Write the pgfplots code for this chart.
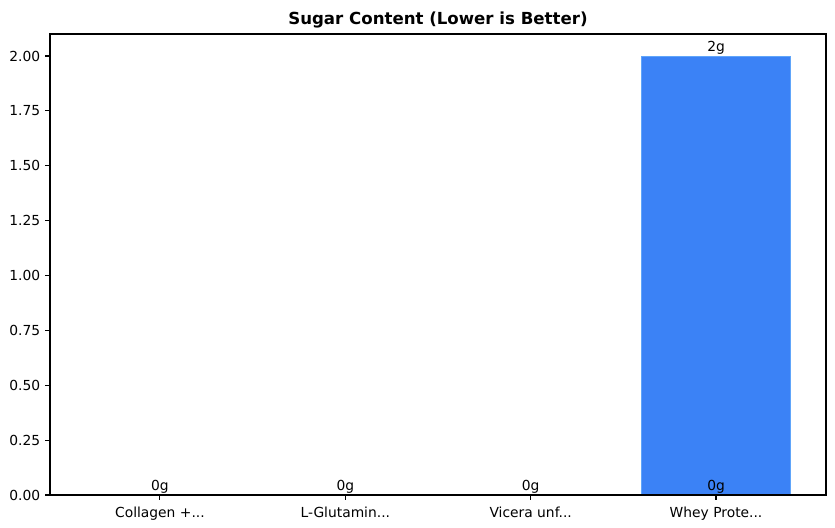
\documentclass[border=0pt]{standalone}
\usepackage{fontspec}
\setmainfont{DejaVu Sans}
\usepackage{pgfplots}
\pgfplotsset{compat=1.18}
\definecolor{barblue}{HTML}{3B82F6}
\definecolor{baredge}{HTML}{60A5FA}
\protected\def\dd{...}
\begin{document}
\begin{tikzpicture}
\begin{axis}[
  scale only axis,
  width=558.7bp, height=331.9bp,
  xmin=-0.593, xmax=3.593,
  ymin=0, ymax=2.1,
  xtick={0,1,2,3},
  xticklabels={Collagen +\dd,L-Glutamin\dd,Vicera unf\dd,Whey Prote\dd},
  ytick={0,0.25,0.5,0.75,1,1.25,1.5,1.75,2},
  yticklabel style={/pgf/number format/.cd,fixed,fixed zerofill,precision=2},
  xticklabel style={yshift=-1.5bp},
  /pgf/number format/assume math mode=true,
  tick style={black,line width=0.8bp},
  tick align=outside, major tick length=3.5bp,
  xtick pos=bottom, ytick pos=left,
  axis line style={line width=0.8bp},
  axis on top,
  ticklabel style={font=\fontsize{10}{12}\selectfont},
  title={\textbf{Sugar Content (Lower is Better)}},
  title style={font=\fontsize{12}{14}\selectfont, yshift=-5.5bp},
  clip=false,
]
\addplot[ybar, bar width=0.8, fill=barblue, draw=baredge, line width=0.6bp]
  coordinates {(3,2)};
\addplot[draw=none, mark=none, nodes near coords={\pgfmathprintnumber{\pgfplotspointmeta}g},
  every node near coord/.append style={font=\fontsize{10}{12}\selectfont, anchor=south, inner sep=1bp}]
  coordinates {(0,0) (1,0) (2,0) (3,0) (3,2)};
\end{axis}
\path (current axis.south west) ++(-36bp,-23.7bp) coordinate (bbA);
\path (current axis.north east) ++(6.5bp,24.5bp) coordinate (bbB);
\path (bbA) rectangle (bbB);
\end{tikzpicture}
\end{document}
